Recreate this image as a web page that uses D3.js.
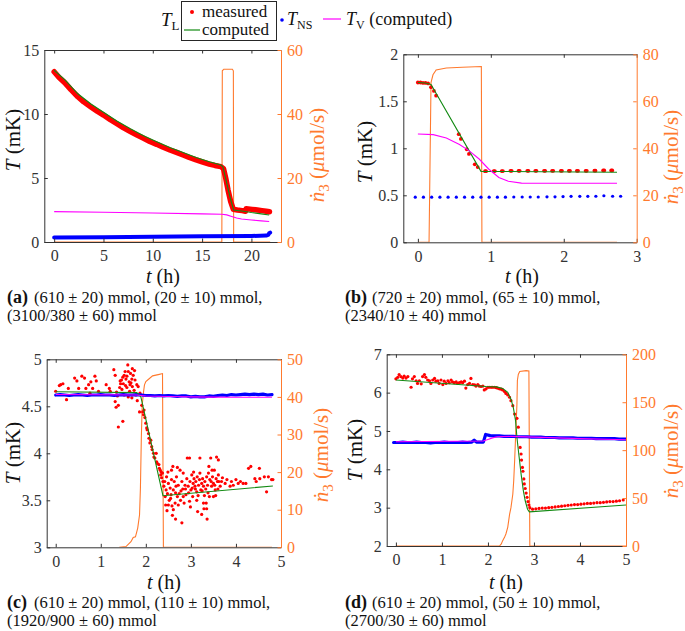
<!DOCTYPE html>
<html><head><meta charset="utf-8">
<script src="https://cdn.jsdelivr.net/npm/d3@7"></script>
<style>body{margin:0;background:#fff}svg{display:block}text{font-family:"Liberation Serif","Times New Roman","DejaVu Serif",serif;}</style>
</head><body>
<script>
// ---------- DATA ----------
// Panel (a)
const aXTicks = [0,5,10,15,20];
const aYTicks = [0,5,10,15];
const aY2Ticks = [0,20,40,60];
const aMeasured = [[0,13.3],[0.5,12.85],[1.07,12.45],[1.7,11.9],[2.4,11.35],[3.0,10.95],[3.73,10.55],[4.4,10.2],[5,9.92],[5.7,9.55],[6.4,9.22],[7.0,8.93],[7.73,8.62],[8.4,8.35],[9.07,8.1],[9.7,7.85],[10.4,7.63],[11.0,7.42],[11.73,7.19],[12.4,7.0],[13.07,6.8],[13.7,6.6],[14.4,6.41],[15.0,6.26],[15.73,6.09],[16.3,5.98],[16.9,5.89],[17.17,5.73],[17.4,4.97],[17.63,4.06],[17.9,3.15],[18.17,2.55],[18.57,2.5],[19.07,2.45],[19.4,2.4],[19.47,2.6],[20.07,2.55],[20.6,2.5],[21.07,2.45],[21.5,2.4],[21.83,2.36]];
const aComputed = [[0,13.42],[1.07,12.68],[2.4,11.58],[3.73,10.78],[5,10.14],[6.4,9.44],[7.73,8.84],[9.07,8.31],[10.4,7.84],[11.73,7.39],[13.07,6.99],[14.4,6.6],[15.73,6.27],[16.9,6.02],[17.1,5.9],[17.5,4.6],[17.9,3.3],[18.2,2.5],[19,2.42],[20,2.3],[21,2.2],[21.8,2.11]];
const aTV = [[0,2.37],[5,2.32],[10,2.26],[15,2.2],[17,2.17],[17.5,2.12],[18,2.0],[18.5,1.87],[19,1.8],[20,1.72],[21,1.65],[21.8,1.6]];
const aTNS = [[0,0.36],[5,0.38],[10,0.41],[15,0.44],[20,0.47],[21.5,0.5],[21.7,0.55],[21.8,0.68],[21.9,0.73]];
const aFlow = [[0,0],[17.0,0],[17.05,53.5],[17.2,54],[18.07,54],[18.17,53.5],[18.2,0],[21.9,0]];

// Panel (b)
const bXTicks = [0,1,2,3];
const bYTicks = [0,0.5,1,1.5,2];
const bY2Ticks = [0,20,40,60,80];
const bMeasured = [[0,1.70],[0.035,1.70],[0.07,1.695],[0.105,1.695],[0.14,1.69],[0.18,1.65],[0.22,1.61],[0.25,1.56],[0.56,1.15],[0.59,1.10],[0.67,0.99],[0.70,0.94],[0.78,0.83],[0.82,0.80],[0.92,0.757],[0.935,0.757],[1.04,0.758],[1.055,0.758],[1.15,0.758],[1.165,0.758],[1.27,0.76],[1.285,0.76],[1.38,0.76],[1.395,0.76],[1.5,0.76],[1.515,0.76],[1.61,0.76],[1.625,0.76],[1.73,0.76],[1.745,0.76],[1.84,0.76],[1.855,0.76],[1.96,0.76],[1.975,0.76],[2.07,0.76],[2.085,0.76],[2.18,0.76],[2.195,0.76],[2.3,0.76],[2.315,0.76],[2.42,0.762],[2.435,0.762],[2.54,0.765],[2.555,0.765],[2.65,0.765],[2.665,0.765]];
const bComputed = [[0,1.70],[0.1,1.695],[0.18,1.68],[0.865,0.755],[2.73,0.745]];
const bTV = [[0,1.152],[0.21,1.145],[0.39,1.11],[0.57,1.04],[0.70,0.975],[0.84,0.886],[0.97,0.78],[1.11,0.69],[1.24,0.65],[1.42,0.63],[1.6,0.628],[2.73,0.628]];
const bTNS = [[-0.036,0.48],[0.076,0.48],[0.189,0.48],[0.302,0.48],[0.414,0.48],[0.527,0.48],[0.64,0.48],[0.752,0.48],[0.865,0.48],[0.977,0.48],[1.09,0.48],[1.2,0.48],[1.315,0.482],[1.43,0.482],[1.54,0.482],[1.65,0.482],[1.77,0.484],[1.88,0.484],[1.99,0.486],[2.1,0.489],[2.22,0.489],[2.33,0.489],[2.44,0.49],[2.55,0.495],[2.67,0.49],[2.78,0.49]];
const bFlow = [[0,0],[0.153,0],[0.18,68],[0.207,71.3],[0.25,73.3],[0.39,74.2],[0.61,74.5],[0.87,74.8],[0.878,0],[2.73,0]];

// Panel (c)
const cXTicks = [0,1,2,3,4,5];
const cYTicks = [3,3.5,4,4.5,5];
const cY2Ticks = [0,10,20,30,40,50];
const cMeasured = [[0,4.66],[0.08,4.72],[0.11,4.73],[0.16,4.74],[0.24,4.57],[0.28,4.69],[0.42,4.80],[0.47,4.77],[0.51,4.69],[0.58,4.82],[0.64,4.80],[0.67,4.69],[0.73,4.73],[0.76,4.64],[0.78,4.76],[0.82,4.69],[0.87,4.82],[0.9,4.77],[0.95,4.66],[1.12,4.73],[1.19,4.69],[1.21,4.66],
[1.29,4.89],[1.32,4.83],[1.32,4.55],[1.34,4.49],[1.35,4.65],[1.37,4.61],[1.39,4.51],[1.39,4.28],[1.43,4.77],[1.44,4.74],[1.46,4.78],[1.49,4.81],[1.49,4.34],[1.5,4.74],[1.52,4.83],[1.52,4.62],[1.54,4.87],[1.56,4.79],[1.58,4.82],[1.6,4.94],[1.61,4.87],[1.61,4.60],[1.63,4.76],[1.65,4.73],[1.66,4.85],[1.69,4.79],[1.69,4.59],[1.7,4.71],[1.72,4.83],[1.74,4.67],[1.76,4.78],[1.78,4.62],[1.8,4.73],[1.81,4.56],[1.83,4.71],[1.86,4.44],[1.87,4.64],[1.42,4.70],[1.47,4.68],[1.55,4.72],[1.64,4.66],[1.7,4.90],[1.75,4.88],[1.58,4.70],[1.67,4.75],
[1.91,4.51],[1.93,4.44],[1.95,4.41],[1.96,4.46],[1.98,4.38],[2.0,4.32],[2.02,4.27],[2.03,4.25],[2.06,4.21],[2.07,4.16],[2.09,4.11],[2.11,4.14],[2.13,4.07],[2.14,4.04],[2.17,4.0],[2.18,3.96],[2.2,3.95],[2.23,4.0],[2.24,3.91],[2.26,3.89],[2.29,3.88],[2.3,3.84],[2.32,3.82],[2.34,3.8],[2.37,3.79],[2.35,3.74],[2.38,3.70],[2.33,3.77],
[2.4,3.65],[2.43,3.54],[2.45,3.61],[2.46,3.75],[2.48,3.57],[2.5,3.68],[2.52,3.50],[2.54,3.63],[2.56,3.56],[2.57,3.72],[2.6,3.86],[2.61,3.61],[2.63,3.70],[2.65,3.47],[2.67,3.65],[2.68,3.75],[2.7,3.54],[2.72,3.66],[2.74,3.57],[2.76,3.82],[2.77,3.50],[2.8,3.70],[2.82,3.62],[2.83,3.79],[2.85,3.47],[2.87,3.66],[2.89,3.56],[2.91,3.73],[2.92,3.95],[2.94,3.65],[2.97,3.49],[2.98,3.70],[3.0,3.61],[3.02,3.77],[3.04,3.54],[3.05,3.68],[3.07,3.73],[3.09,3.65],[3.11,3.70],[3.13,3.59],[3.14,3.75],[3.17,3.66],[3.19,3.72],[3.2,3.79],[3.22,3.61],[3.24,3.68],[3.26,3.73],[3.28,3.65],[3.29,3.41],[3.31,3.70],[3.34,3.47],[3.35,3.75],[3.37,3.66],[3.39,3.79],[3.41,3.54],[3.42,3.72],[3.44,3.95],[3.46,3.65],[3.48,3.75],[3.5,3.68],[3.52,3.82],[3.54,3.61],[3.56,3.73],[3.57,3.96],[3.59,3.70],[3.61,3.77],[3.65,3.65],[3.68,3.70],[3.76,3.68],[3.87,3.65],[3.94,3.66],[4.05,3.68],[4.16,3.68],[4.28,3.84],[4.33,3.86],[4.42,3.73],[4.52,3.84],[4.53,3.73],[4.68,3.59],[4.72,3.75],[4.79,3.72],[2.8,3.26],[2.61,3.40],[2.99,3.43],[3.35,3.41],[3.28,3.47],[2.5,3.45],[2.83,3.54],[3.13,3.50],[3.5,3.54],[3.61,3.93],[3.2,3.95],[2.97,3.95],[2.57,3.82],
[2.44,3.45],[2.47,3.39],[2.55,3.52],[2.58,3.44],[2.66,3.58],[2.72,3.45],[2.78,3.60],[2.88,3.62],[2.95,3.58],[3.03,3.63],[3.1,3.62],[3.16,3.55],[3.25,3.60],[3.3,3.55],[3.33,3.62],[3.38,3.58],[3.45,3.70],[3.53,3.66],[3.6,3.62],[3.62,3.70],[3.7,3.74],[3.8,3.72],[3.9,3.70],[4.0,3.72],[4.1,3.70],[4.22,3.68],[4.45,3.70],[4.63,3.75],[4.82,3.72],[3.24,3.35],[3.36,3.30],[2.59,3.34],[3.15,3.38],[2.42,3.70],[2.49,3.80],[2.7,3.85],[3.06,3.80],[3.4,3.86],[3.47,3.82],[2.66,3.30],[3.55,3.55]];
const cComputed = [[0,4.655],[1.8,4.645],[1.89,4.60],[2.38,3.549],[4.82,3.652]];
const cTV = [[0,4.625],[1.8,4.62],[2.0,4.61],[2.5,4.605],[3.0,4.6],[3.5,4.598],[4.0,4.597],[4.8,4.597]];
const cTNSTimes = [0,0.1,0.2,0.3,0.4,0.5,0.6,0.7,0.8,0.9,1.0,1.1,1.2,1.3,1.4,1.5,1.6,1.7,1.8,1.9,2.0,2.1,2.2,2.3,2.4,2.5,2.6,2.7,2.8,2.9,3.0,3.1,3.2,3.3,3.4,3.5,3.6,3.7,3.8,3.9,4.0,4.1,4.2,4.3,4.4,4.5,4.6,4.7,4.8];
const cTNSValues = [4.62,4.625,4.62,4.615,4.62,4.625,4.62,4.615,4.62,4.62,4.625,4.62,4.62,4.615,4.62,4.625,4.62,4.62,4.625,4.62,4.615,4.615,4.61,4.615,4.61,4.615,4.61,4.605,4.61,4.61,4.6,4.605,4.6,4.6,4.61,4.605,4.615,4.62,4.615,4.625,4.62,4.625,4.63,4.625,4.63,4.625,4.63,4.62,4.625];
const cFlow = [[1.41,0],[1.56,0.2],[1.67,1.5],[1.72,2.6],[1.77,2.8],[1.82,5.1],[1.86,8.6],[1.88,15.7],[1.90,29],[1.92,37.9],[1.95,41.4],[1.97,43.2],[2.0,44.1],[2.08,44.9],[2.15,45.6],[2.30,46.0],[2.37,46.2],[2.39,0],[4.8,0]];

// Panel (d)
const dXTicks = [0,1,2,3,4,5];
const dYTicks = [2,3,4,5,6,7];
const dY2Ticks = [0,50,100,150,200];
const dMeasured = [[0,6.36],[0.04,6.40],[0.07,6.47],[0.11,6.42],[0.15,6.38],[0.18,6.43],[0.22,6.38],[0.26,6.42],[0.33,6.14],[0.36,6.36],[0.4,6.42],[0.44,6.31],[0.47,6.24],[0.51,6.31],[0.55,6.23],[0.58,6.42],[0.62,6.47],[0.65,6.40],[0.69,6.33],[0.73,6.31],[0.76,6.24],[0.8,6.33],[0.84,6.37],[0.87,6.30],[0.91,6.31],[0.94,6.24],[0.98,6.33],[1.02,6.21],[1.05,6.30],[1.09,6.24],[1.13,6.31],[1.16,6.26],[1.2,6.33],[1.23,6.28],[1.27,6.26],[1.31,6.28],[1.34,6.24],[1.38,6.26],[1.42,6.28],[1.45,6.26],[1.49,6.30],[1.52,6.12],[1.56,6.21],[1.6,6.24],[1.63,6.37],[1.67,6.21],[1.71,6.20],[1.74,6.17],[1.78,6.21],[1.81,6.17],[1.85,6.16],[1.89,6.17],[1.92,6.07],[1.96,6.10],[2.0,6.14],[2.03,6.14],[2.07,6.14],[2.1,6.14],[2.14,6.14],[2.18,6.13],[2.21,6.12],[2.25,6.10],[2.29,6.09],[2.32,6.07],[2.36,6.03],[2.39,5.98],[2.43,5.94],[2.47,5.88],[2.5,5.79],[2.54,5.66],[2.58,5.44],[2.63,5.33],[2.66,5.10],[2.70,4.57],[2.72,4.40],[2.73,4.24],[2.75,4.05],[2.76,3.95],[2.78,3.75],[2.79,3.62],[2.81,3.50],[2.83,3.38],[2.85,3.27],[2.87,3.16],[2.89,3.07],[2.91,3.00],[2.97,2.96],[3.04,2.97],[3.11,2.98],[3.18,2.99],[3.25,2.99],[3.32,3.0],[3.39,3.01],[3.46,3.02],[3.53,3.03],[3.6,3.04],[3.67,3.05],[3.74,3.06],[3.81,3.07],[3.88,3.08],[3.95,3.08],[4.02,3.09],[4.09,3.10],[4.16,3.11],[4.23,3.11],[4.3,3.12],[4.37,3.13],[4.44,3.13],[4.51,3.14],[4.58,3.15],[4.65,3.16],[4.72,3.16],[4.79,3.17],[4.86,3.18],[4.94,3.20]];
const dComputed = [[0,6.33],[1.96,6.16],[2.18,6.15],[2.32,6.11],[2.43,6.01],[2.5,5.83],[2.55,5.62],[2.6,5.27],[2.63,4.83],[2.67,4.40],[2.72,3.88],[2.77,3.44],[2.81,3.18],[2.86,2.96],[2.9,2.89],[5.0,3.07]];
const dTV = [[0,4.72],[1.9,4.74],[2.0,4.78],[2.1,4.82],[2.2,4.85],[2.5,4.86],[3,4.84],[4,4.8],[5,4.77]];
const dTNSTimes = [-0.05,0.05,0.15,0.25,0.35,0.45,0.55,0.65,0.75,0.85,0.95,1.05,1.15,1.25,1.35,1.45,1.55,1.65,1.7,1.75,1.85,1.9,1.95,2.05,2.15,2.25,2.35,2.45,2.55,2.65,2.75,2.85,2.95,3.05,3.15,3.25,3.35,3.45,3.55,3.65,3.75,3.85,3.95,4.05,4.15,4.25,4.35,4.45,4.55,4.65,4.75,4.85,4.95,5.0];
const dTNSValues = [4.70,4.70,4.71,4.70,4.70,4.71,4.70,4.70,4.69,4.70,4.70,4.71,4.70,4.70,4.70,4.71,4.70,4.71,4.76,4.71,4.71,4.71,4.91,4.88,4.87,4.87,4.86,4.86,4.86,4.85,4.85,4.85,4.84,4.84,4.84,4.83,4.83,4.83,4.82,4.82,4.82,4.82,4.81,4.81,4.81,4.81,4.80,4.80,4.80,4.80,4.80,4.79,4.79,4.79];
const dFlow = [[0,0],[2.25,0],[2.29,2.1],[2.32,5.6],[2.36,9],[2.39,12.5],[2.43,19.5],[2.47,33],[2.5,40],[2.54,54],[2.56,68],[2.58,89],[2.6,113],[2.63,148],[2.64,173],[2.66,179],[2.69,182],[2.83,183],[2.89,182.6],[2.91,0],[5.0,0]];

const captionTags = ["(a)", "(b)", "(c)", "(d)"];
const captionLine1 = ["(610 ± 20) mmol, (20 ± 10) mmol,", "(720 ± 20) mmol, (65 ± 10) mmol,", "(610 ± 20) mmol, (110 ± 10) mmol,", "(610 ± 20) mmol, (50 ± 10) mmol,"];
const captionLine2 = ["(3100/380 ± 60) mmol", "(2340/10 ± 40) mmol", "(1920/900 ± 60) mmol", "(2700/30 ± 60) mmol"];

// ---------- STYLE ----------
const ORANGE = "#ff7a2e", RED = "#ff0000", GREEN = "#138a13", BLUE = "#0000ff", MAGENTA = "#ff00ff", AXIS = "#333333";
const FONT = '"Liberation Serif","Times New Roman","DejaVu Serif",serif';

const svg = d3.select("body").append("svg").attr("width", 685).attr("height", 631).attr("font-family", FONT);
svg.append("rect").attr("width", 685).attr("height", 631).attr("fill", "#fff");

function zip(ts, vs) { return ts.map((t, i) => [t, vs[i]]); }

const panels = [
  {id:"a", k:0, L:44.3, R:281, T:50, B:242, xd:[-1,23], yd:[0,15], y2d:[0,60], xt:aXTicks, yt:aYTicks, y2t:aY2Ticks,
   meas:aMeasured, measBand:5.5, comp:aComputed, tv:aTV, tns:aTNS, tnsBand:4, flow:aFlow,
   yl:[12.5,140], y2l:[317,155], xl:[163,283], cap:[7,303]},
  {id:"b", k:1, L:403.3, R:636.7, T:54.3, B:242.3, xd:[-0.2,3], yd:[0,2], y2d:[0,80], xt:bXTicks, yt:bYTicks, y2t:bY2Ticks,
   meas:bMeasured, measR:1.9, comp:bComputed, tv:bTV, tns:bTNS, tnsR:1.6, flow:bFlow,
   yl:[365,152], y2l:[671,157], xl:[522,283], cap:[345,303]},
  {id:"c", k:2, L:46.7, R:281, T:359.3, B:547.3, xd:[-0.2,5], yd:[3,5], y2d:[0,50], xt:cXTicks, yt:cYTicks, y2t:cY2Ticks,
   meas:cMeasured, measR:1.6, comp:cComputed, tv:cTV, tns:zip(cTNSTimes,cTNSValues), tnsBand:3.2, flow:cFlow,
   yl:[12.5,453], y2l:[321,455], xl:[164,588.5], cap:[7,608]},
  {id:"d", k:3, L:386.7, R:626, T:354.3, B:546, xd:[-0.2,5], yd:[2,7], y2d:[0,200], xt:dXTicks, yt:dYTicks, y2t:dY2Ticks,
   meas:dMeasured, measR:1.6, comp:dComputed, tv:dTV, tns:zip(dTNSTimes,dTNSValues), tnsBand:3.2, flow:dFlow,
   yl:[355,450], y2l:[671,451], xl:[506,588.5], cap:[345,608]}
];

function drawPanel(p) {
  const x = d3.scaleLinear().domain(p.xd).range([p.L, p.R]);
  const y = d3.scaleLinear().domain(p.yd).range([p.B, p.T]);
  const y2 = d3.scaleLinear().domain(p.y2d).range([p.B, p.T]);
  const g = svg.append("g");
  svg.append("clipPath").attr("id", "clip" + p.id).append("rect")
    .attr("x", p.L).attr("y", p.T - 2).attr("width", p.R - p.L).attr("height", p.B - p.T + 2);
  const plot = g.append("g").attr("clip-path", `url(#clip${p.id})`);
  const line = d3.line().x(d => x(d[0])).y(d => y(d[1]));
  const line2 = d3.line().x(d => x(d[0])).y(d => y2(d[1]));

  plot.append("path").datum(p.flow).attr("d", line2).attr("fill", "none").attr("stroke", ORANGE).attr("stroke-width", 1.1);

  if (p.measBand) {
    plot.append("path").datum(p.meas).attr("d", line).attr("fill", "none").attr("stroke", RED)
      .attr("stroke-width", p.measBand).attr("stroke-linecap", "round").attr("stroke-linejoin", "round");
  } else {
    plot.selectAll(".m").data(p.meas).enter().append("circle").attr("cx", d => x(d[0])).attr("cy", d => y(d[1]))
      .attr("r", p.measR).attr("fill", RED);
  }
  if (p.tnsBand) {
    plot.append("path").datum(p.tns).attr("d", line).attr("fill", "none").attr("stroke", BLUE)
      .attr("stroke-width", p.tnsBand).attr("stroke-linecap", "round").attr("stroke-linejoin", "round");
  } else {
    plot.selectAll(".n").data(p.tns).enter().append("circle").attr("cx", d => x(d[0])).attr("cy", d => y(d[1]))
      .attr("r", p.tnsR).attr("fill", BLUE);
  }
  plot.append("path").datum(p.comp).attr("d", line).attr("fill", "none").attr("stroke", GREEN).attr("stroke-width", 1.1);
  plot.append("path").datum(p.tv).attr("d", line).attr("fill", "none").attr("stroke", MAGENTA).attr("stroke-width", 1.1);

  const fmt = d => String(d);
  const ax = (sel, col) => {
    sel.attr("font-family", FONT).attr("font-size", 16);
    sel.selectAll("path.domain").attr("stroke", col);
    sel.selectAll(".tick line").attr("stroke", col);
    sel.selectAll(".tick text").attr("fill", col);
  };
  g.append("g").attr("transform", `translate(0,${p.B})`)
    .call(d3.axisBottom(x).tickValues(p.xt).tickFormat(fmt).tickSizeInner(-3.5).tickSizeOuter(0).tickPadding(8))
    .call(s => ax(s, AXIS));
  g.append("g").attr("transform", `translate(0,${p.T})`)
    .call(d3.axisTop(x).tickValues(p.xt).tickFormat("").tickSizeInner(-3.5).tickSizeOuter(0))
    .call(s => ax(s, AXIS));
  g.append("g").attr("transform", `translate(${p.L},0)`)
    .call(d3.axisLeft(y).tickValues(p.yt).tickFormat(fmt).tickSizeInner(-3.5).tickSizeOuter(0).tickPadding(5))
    .call(s => ax(s, AXIS));
  g.append("g").attr("transform", `translate(${p.R},0)`)
    .call(d3.axisRight(y2).tickValues(p.y2t).tickFormat(fmt).tickSizeInner(-3.5).tickSizeOuter(0).tickPadding(6))
    .call(s => ax(s, ORANGE));

  const yl = g.append("text").attr("transform", `translate(${p.yl[0]},${p.yl[1]}) rotate(-90)`)
    .attr("text-anchor", "middle").attr("dy", "0.35em").attr("font-size", 21).attr("fill", "#111");
  yl.append("tspan").attr("font-style", "italic").text("T");
  yl.append("tspan").text(" (mK)");

  const y2l = g.append("text").attr("transform", `translate(${p.y2l[0]},${p.y2l[1]}) rotate(-90)`)
    .attr("text-anchor", "middle").attr("dy", "0.35em").attr("font-size", 21).attr("fill", ORANGE);
  y2l.append("tspan").attr("font-style", "italic").text("ṅ");
  y2l.append("tspan").attr("dy", "5").attr("font-size", 15).text("3");
  y2l.append("tspan").attr("dy", "-5").text(" (");
  y2l.append("tspan").attr("font-style", "italic").text("μ");
  y2l.append("tspan").text("mol/s)");

  const xl = g.append("text").attr("x", p.xl[0]).attr("y", p.xl[1]).attr("text-anchor", "middle")
    .attr("font-size", 20).attr("fill", "#111");
  xl.append("tspan").attr("font-style", "italic").text("t");
  xl.append("tspan").text(" (h)");

  g.append("text").attr("x", p.cap[0]).attr("y", p.cap[1]).attr("fill", "#111")
    .attr("font-weight", "bold").attr("font-size", 18).text(captionTags[p.k]);
  g.append("text").attr("x", p.cap[0] + 27).attr("y", p.cap[1]).attr("fill", "#111")
    .attr("font-size", 16.5).text(captionLine1[p.k]);
  g.append("text").attr("x", p.cap[0]).attr("y", p.cap[1] + 17.5).attr("fill", "#111")
    .attr("font-size", 16.5).text(captionLine2[p.k]);
}
panels.forEach(drawPanel);

// ---------- LEGEND ----------
const lg = svg.append("g");
const tl = lg.append("text").attr("x", 161).attr("y", 26).attr("font-size", 19).attr("fill", "#111");
tl.append("tspan").attr("font-style", "italic").text("T");
tl.append("tspan").attr("dy", 4).attr("font-size", 13).text("L");
lg.append("rect").attr("x", 181.5).attr("y", 1.5).attr("width", 95).attr("height", 39).attr("fill", "#fff").attr("stroke", "#262626");
lg.append("circle").attr("cx", 192).attr("cy", 12).attr("r", 2).attr("fill", RED);
lg.append("text").attr("x", 202).attr("y", 17).attr("font-size", 17).attr("fill", "#111").text("measured");
lg.append("line").attr("x1", 184).attr("x2", 200).attr("y1", 30).attr("y2", 30).attr("stroke", GREEN).attr("stroke-width", 1.2);
lg.append("text").attr("x", 202).attr("y", 35).attr("font-size", 17).attr("fill", "#111").text("computed");
lg.append("circle").attr("cx", 282).attr("cy", 20).attr("r", 1.8).attr("fill", BLUE);
const tns = lg.append("text").attr("x", 287).attr("y", 25).attr("font-size", 18).attr("fill", "#111");
tns.append("tspan").attr("font-style", "italic").text("T");
tns.append("tspan").attr("dy", 4).attr("font-size", 12).text("NS");
lg.append("line").attr("x1", 323).attr("x2", 341).attr("y1", 19).attr("y2", 19).attr("stroke", MAGENTA).attr("stroke-width", 1.2);
const tv = lg.append("text").attr("x", 346).attr("y", 25).attr("font-size", 18).attr("fill", "#111");
tv.append("tspan").attr("font-style", "italic").text("T");
tv.append("tspan").attr("dy", 4).attr("font-size", 12).text("V");
tv.append("tspan").attr("dy", -4).text(" (computed)");
</script>
</body></html>
